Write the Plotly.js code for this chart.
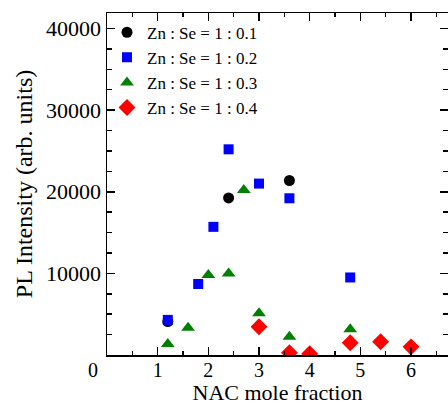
<!DOCTYPE html>
<html>
<head>
<meta charset="utf-8">
<script src="https://cdn.plot.ly/plotly-3.0.1.min.js"></script>
<style>html,body{margin:0;padding:0;background:#fff;}#chart{width:448px;height:405px;}</style>
</head>
<body>
<div id="chart"></div>
<script>
const seriesNames = ["Zn : Se = 1 : 0.1", "Zn : Se = 1 : 0.2", "Zn : Se = 1 : 0.3", "Zn : Se = 1 : 0.4"];
const x01 = [1.2, 2.4, 3.6];
const y01 = [4100, 19250, 21380];
const x02 = [1.2, 1.8, 2.1, 2.4, 3.0, 3.6, 4.8];
const y02 = [4300, 8700, 15700, 25200, 21000, 19200, 9500];
const x03 = [1.2, 1.6, 2.0, 2.4, 2.7, 3.0, 3.6, 4.8];
const y03 = [1350, 3350, 9800, 10000, 20200, 5100, 2240, 3150];
const x04 = [3.0, 3.6, 4.0, 4.8, 5.4, 6.0];
const y04 = [3470, 280, 150, 1500, 1630, 1000];
const xTickVals = [1, 2, 3, 4, 5, 6];
const yTickVals = [10000, 20000, 30000, 40000];

const font = "Liberation Serif";
const traces = [
  {x: x01, y: y01, name: seriesNames[0], mode: "markers", type: "scatter",
   marker: {symbol: "circle", size: 11, color: "#000000"}},
  {x: x02, y: y02, name: seriesNames[1], mode: "markers", type: "scatter",
   marker: {symbol: "square", size: 10, color: "#0000ff"}},
  {x: x03, y: y03, name: seriesNames[2], mode: "markers", type: "scatter",
   marker: {symbol: "triangle-up", size: 12, color: "#008000"}},
  {x: x04, y: y04, name: seriesNames[3], mode: "markers", type: "scatter",
   marker: {symbol: "diamond", size: 13, color: "#ff0000"}}
];

const layout = {
  width: 448, height: 405,
  margin: {l: 107, r: 0, t: 13, b: 50},
  paper_bgcolor: "#fff", plot_bgcolor: "#fff",
  font: {family: font, color: "#000", size: 21},
  showlegend: true,
  legend: {x: 0.0, y: 0.995, xanchor: "left", yanchor: "top", bgcolor: "rgba(0,0,0,0)",
           font: {family: font, size: 17, color: "#000"}, tracegroupgap: 0, itemwidth: 30},
  xaxis: {
    range: [0, 6.73], showgrid: false, zeroline: false,
    showline: true, linecolor: "#000", linewidth: 1.5, mirror: "ticks",
    ticks: "inside", ticklen: 8, tickwidth: 1.5, tickcolor: "#000",
    tickvals: xTickVals, ticktext: xTickVals.map(String),
    tickfont: {family: font, size: 20, color: "#000"},
    ticklabelstandoff: -4,
    minor: {dtick: 0.5, tick0: 0, ticks: "inside", ticklen: 4, tickwidth: 1.5, tickcolor: "#000", showgrid: false},
    title: {text: "NAC mole fraction", font: {family: font, size: 22, color: "#000"}, standoff: 3}
  },
  yaxis: {
    range: [0, 41900], showgrid: false, zeroline: false,
    showline: true, linecolor: "#000", linewidth: 1.5, mirror: "ticks",
    ticks: "inside", ticklen: 8, tickwidth: 1.5, tickcolor: "#000",
    tickvals: yTickVals, ticktext: yTickVals.map(String),
    tickfont: {family: font, size: 22, color: "#000"},
    minor: {dtick: 2500, tick0: 0, ticks: "inside", ticklen: 5, tickwidth: 1.5, tickcolor: "#000", showgrid: false},
    title: {text: "PL Intensity (arb. units)", font: {family: font, size: 24, color: "#000"}, standoff: 6}
  },
  annotations: [{x: 0, y: -0.044, xref: "paper", yref: "paper", text: "0", showarrow: false,
    xanchor: "right", yanchor: "middle", xshift: -7,
    font: {family: font, size: 20, color: "#000"}}]
};

Plotly.newPlot("chart", traces, layout, {displayModeBar: false, staticPlot: true});
</script>
</body>
</html>
